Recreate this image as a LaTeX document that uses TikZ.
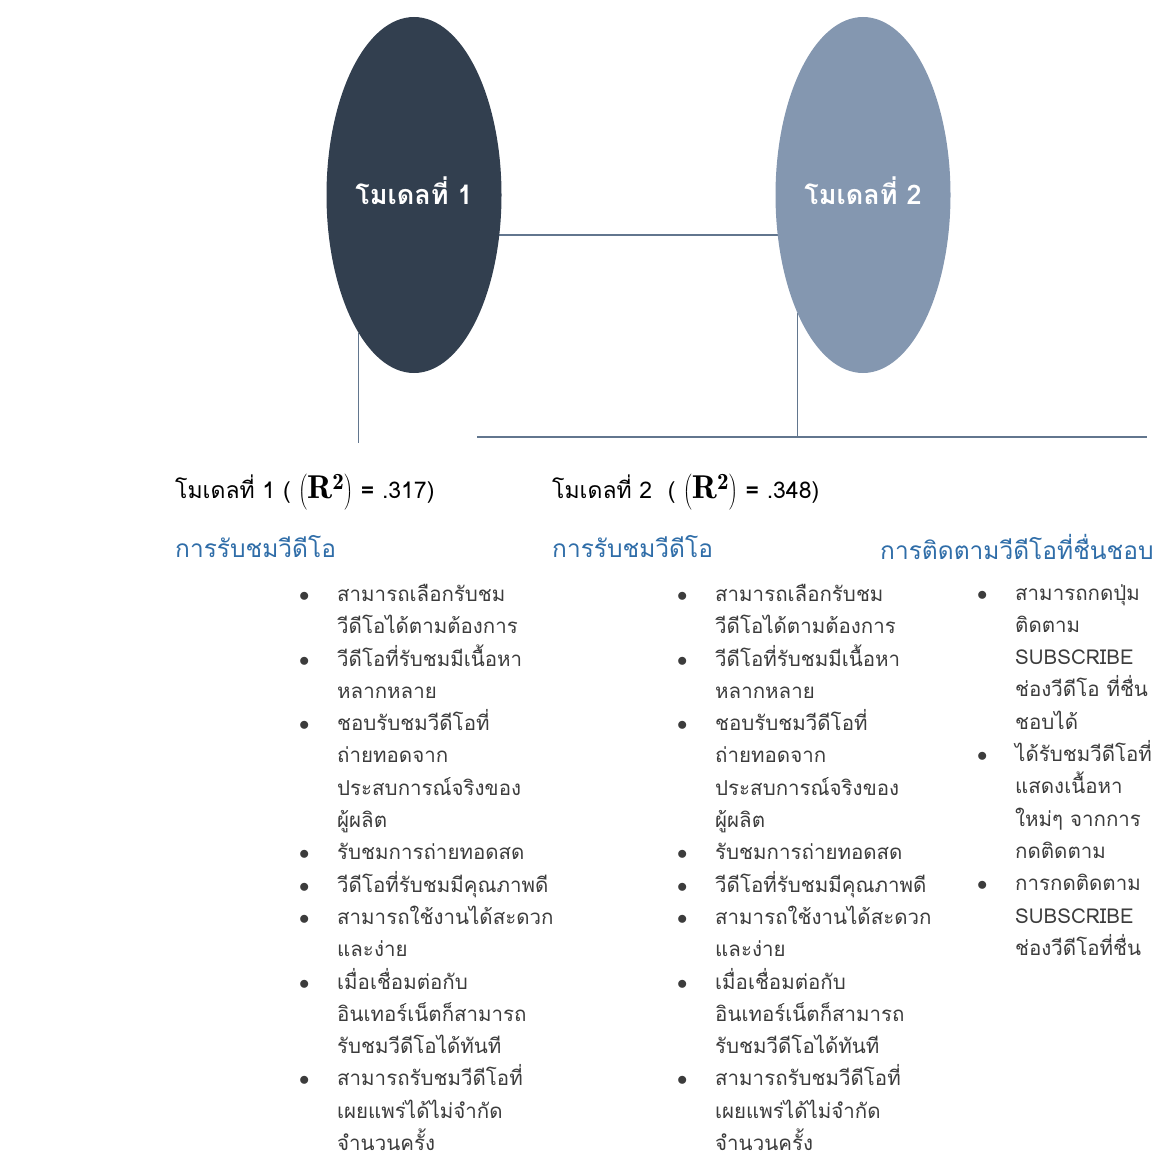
\documentclass[tikz,border=0pt]{standalone}
\usepackage{fontspec}
\newfontfamily\thai[Script=Thai]{Loma}
\usetikzlibrary{shapes.geometric}
\pgfdeclarelayer{bg}
\pgfsetlayers{bg,main}
\definecolor{navy}{HTML}{323F4F}
\definecolor{slate}{HTML}{8497B0}
\definecolor{conn}{HTML}{62768E}
\definecolor{headblue}{HTML}{2F6DA8}
\definecolor{bodygray}{HTML}{3C3C3C}
\newcommand\mybul{\makebox[38pt][l]{$\bullet$}}
\newcommand\myind{\hspace*{38pt}}
\tikzset{
  model/.style={ellipse, minimum width=175pt, minimum height=356pt, inner sep=0pt,
    text=white, font=\thai\fontsize{27}{31}\selectfont\bfseries},
  conn/.style={draw=conn, line width=1.4pt},
  rlabel/.style={anchor=west, inner sep=0pt, text=black, font=\thai\fontsize{23}{27}\selectfont},
  heading/.style={anchor=west, inner sep=0pt, text=headblue, font=\thai\fontsize{24.5}{28}\selectfont},
  listtext/.style={anchor=north west, inner sep=0pt, align=left, text=bodygray,
    font=\thai\fontsize{20.5}{32.3}\selectfont}
}
\newcommand\rsq{{\fontsize{33}{38}\selectfont$\left(\mathbf{R}^{\mathbf{2}}\right)$}}
\begin{document}
\begin{tikzpicture}[x=1pt,y=-1pt]
\useasboundingbox (0,0) rectangle (1174,1164);
% ellipses
\node[model, fill=navy] (m1) at (414,195) {\raisebox{9pt}{โมเดลที่ 1}};
\node[model, fill=slate] (m2) at (863,195) {\raisebox{9pt}{โมเดลที่ 2}};
% connectors
\coordinate (e1) at (357,443);
\coordinate (hl) at (477,437);
\coordinate (hr) at (1147,437);
\begin{pgfonlayer}{bg}
\draw[conn] (m1.-25.7) -- (m1.-25.7 -| m2.center);
\draw[conn] (m1.-112.9) -- (m1.-112.9 |- e1);
\draw[conn] (m2.-119.5) -- (m2.-119.5 |- hr);
\end{pgfonlayer}
\draw[conn] (hl) -- (hr);
% R^2 labels
\node[rlabel] (l1) at (175,492) {โมเดลที่ 1 ( \rsq\ \textbf{=} .317)};
\node[rlabel] (l2) at (552,492) {โมเดลที่ 2 \ ( \rsq\ \textbf{=} .348)};
% headings
\node[heading] (h1) at (175,547) {การรับชมวีดีโอ};
\node[heading] (h2) at (552,547) {การรับชมวีดีโอ};
\node[heading] (h3) at (880,547) {การติดตามวีดีโอที่ชื่นชอบ};
% lists
\node[listtext] (c1) at (299,584) {\mybul สามารถเลือกรับชม\\ \myind วีดีโอได้ตามต้องการ\\ \mybul วีดีโอที่รับชมมีเนื้อหา\\ \myind หลากหลาย\\ \mybul ชอบรับชมวีดีโอที่\\ \myind ถ่ายทอดจาก\\ \myind ประสบการณ์จริงของ\\ \myind ผู้ผลิต\\ \mybul รับชมการถ่ายทอดสด\\ \mybul วีดีโอที่รับชมมีคุณภาพดี\\ \mybul สามารถใช้งานได้สะดวก\\ \myind และง่าย\\ \mybul เมื่อเชื่อมต่อกับ\\ \myind อินเทอร์เน็ตก็สามารถ\\ \myind รับชมวีดีโอได้ทันที\\ \mybul สามารถรับชมวีดีโอที่\\ \myind เผยแพร่ได้ไม่จำกัด\\ \myind จำนวนครั้ง};
\node[listtext] (c2) at (677,584) {\mybul สามารถเลือกรับชม\\ \myind วีดีโอได้ตามต้องการ\\ \mybul วีดีโอที่รับชมมีเนื้อหา\\ \myind หลากหลาย\\ \mybul ชอบรับชมวีดีโอที่\\ \myind ถ่ายทอดจาก\\ \myind ประสบการณ์จริงของ\\ \myind ผู้ผลิต\\ \mybul รับชมการถ่ายทอดสด\\ \mybul วีดีโอที่รับชมมีคุณภาพดี\\ \mybul สามารถใช้งานได้สะดวก\\ \myind และง่าย\\ \mybul เมื่อเชื่อมต่อกับ\\ \myind อินเทอร์เน็ตก็สามารถ\\ \myind รับชมวีดีโอได้ทันที\\ \mybul สามารถรับชมวีดีโอที่\\ \myind เผยแพร่ได้ไม่จำกัด\\ \myind จำนวนครั้ง};
\begin{scope}
\clip (0,0) rectangle (1174,1164);
\node[listtext] (c3) at (977,584) {\mybul สามารถกดปุ่ม\\ \myind ติดตาม\\ \myind SUBSCRIBE\\ \myind ช่องวีดีโอ ที่ชื่น\\ \myind ชอบได้\\ \mybul ได้รับชมวีดีโอที่\\ \myind แสดงเนื้อหา\\ \myind ใหม่ๆ จากการ\\ \myind กดติดตาม\\ \mybul การกดติดตาม\\ \myind SUBSCRIBE\\ \myind ช่องวีดีโอที่ชื่น};
\end{scope}
\end{tikzpicture}
\end{document}
